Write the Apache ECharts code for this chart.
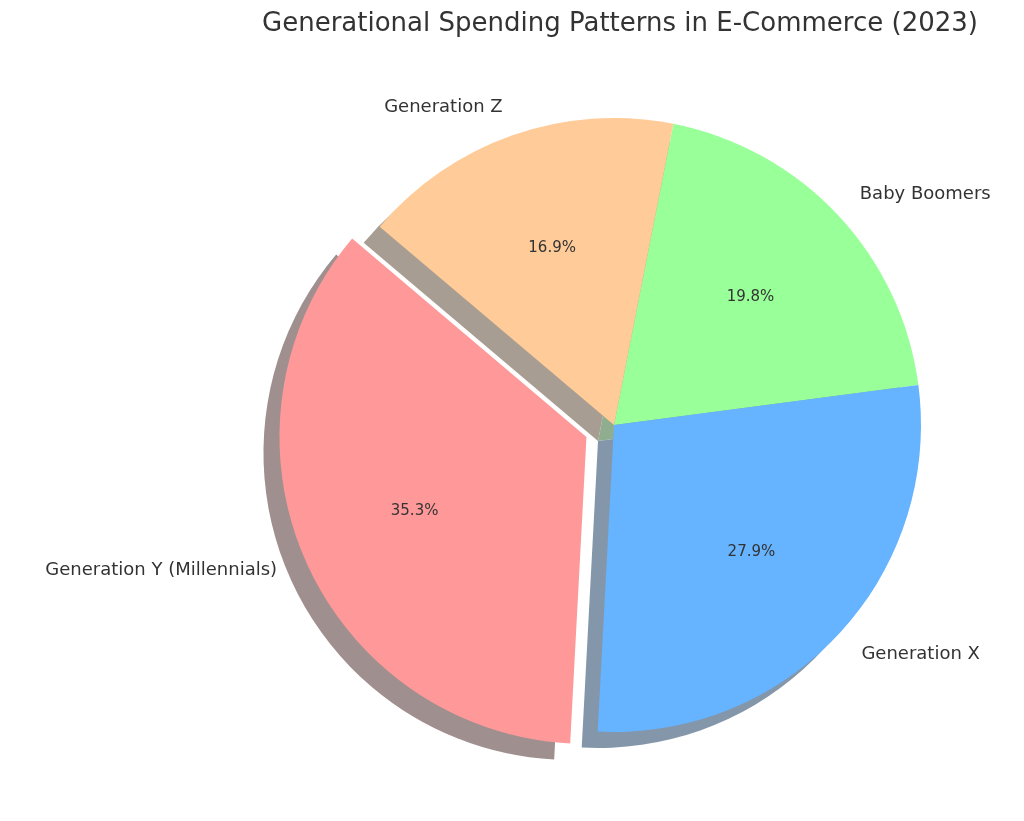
<!DOCTYPE html>
<html><head><meta charset="utf-8">
<script src="https://cdn.jsdelivr.net/npm/echarts@6/dist/echarts.min.js"></script>
<style>html,body{margin:0;padding:0;background:#fff}#c{width:1024px;height:821px}</style>
</head><body><div id="c"></div>
<script>
const categories = ['Baby Boomers', 'Generation Z', 'Generation Y (Millennials)', 'Generation X'];
const values = [19.8, 16.9, 35.3, 27.9];
const colors = ['#99ff99', '#ffcc99', '#ff9999', '#66b3ff'];
const shadowColors = ['#8fae8f', '#a89d92', '#a08f8f', '#8497aa'];
const exploded = 'Generation Y (Millennials)';
const chart = echarts.init(document.getElementById('c'));
const F = 'DejaVu Sans';
const C = [614, 425], R = 307, OFF = 30;
function base(extra) {
  return Object.assign({
    type: 'pie', startAngle: 7.5, clockwise: false, selectedMode: 'single',
    selectedOffset: OFF, silent: true, animation: false,
    labelLine: { show: false }
  }, extra);
}
chart.setOption({
  title: { text: 'Generational Spending Patterns in E-Commerce (2023)', left: 615, top: 6, textAlign: 'center',
    textStyle: { fontFamily: F, fontSize: 26, fontWeight: 'normal', color: '#333' } },
  series: [
    base({ center: [C[0] - 16, C[1] + 16], radius: R, z: 1,
      label: { show: false },
      data: categories.map((c, i) => ({ name: c, value: values[i], selected: c === exploded,
        itemStyle: { color: shadowColors[i] } })) }),
    base({ center: C, radius: R, z: 2,
      label: { show: true, position: 'outside', formatter: '{b}', fontFamily: F, fontSize: 18, color: '#333', distanceToLabelLine: 0 },
      labelLine: { show: false, length: 30, length2: 0 },
      data: categories.map((c, i) => ({ name: c, value: values[i], selected: c === exploded,
        itemStyle: { color: colors[i], borderColor: '#fff', borderWidth: 0 } })) }),
    base({ center: C, radius: R * 1.2, z: 3,
      label: { show: true, position: 'inner', formatter: p => p.value.toFixed(1) + '%', fontFamily: F, fontSize: 15, color: '#333' },
      data: categories.map((c, i) => ({ name: c, value: values[i], selected: c === exploded,
        itemStyle: { color: 'rgba(0,0,0,0)' } })) })
  ]
});
</script></body></html>
